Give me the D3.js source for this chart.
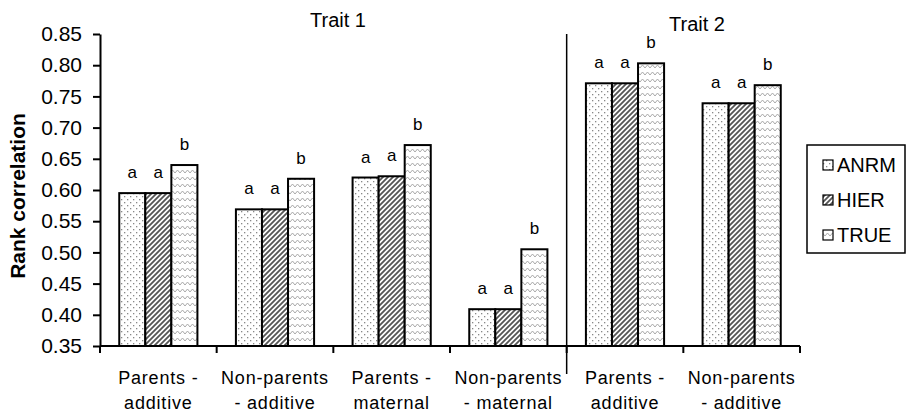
<!DOCTYPE html>
<html><head><meta charset="utf-8">
<script src="https://cdn.jsdelivr.net/npm/d3@7"></script>
<style>body{margin:0;background:#fff;} svg{display:block;font-family:Arial,"Liberation Sans",sans-serif;}</style>
</head><body>
<svg id="c" width="908" height="414"></svg>
<script>
const categories = ["Parents - |additive","Non-parents |- additive","Parents - |maternal","Non-parents |- maternal","Parents - |additive","Non-parents |- additive"];
const series = ["ANRM","HIER","TRUE"];
const anrm = [0.595, 0.569, 0.620, 0.409, 0.771, 0.739];
const hier = [0.595, 0.569, 0.622, 0.409, 0.771, 0.739];
const trueV = [0.640, 0.618, 0.672, 0.505, 0.803, 0.768];
const letters = ["a","a","b"];
const traits = ["Trait 1","Trait 2"];
const yTicks = [0.35,0.40,0.45,0.50,0.55,0.60,0.65,0.70,0.75,0.80,0.85];

const svg = d3.select("#c");
const defs = svg.append("defs");
const pd = defs.append("pattern").attr("id","pDots").attr("patternUnits","userSpaceOnUse").attr("width",6).attr("height",6);
pd.append("rect").attr("width",6).attr("height",6).attr("fill","#fff");
pd.append("rect").attr("x",1).attr("y",1).attr("width",1.3).attr("height",1.3).attr("fill","#888");
pd.append("rect").attr("x",4).attr("y",4).attr("width",1.3).attr("height",1.3).attr("fill","#888");
const ph = defs.append("pattern").attr("id","pDiag").attr("patternUnits","userSpaceOnUse").attr("width",5).attr("height",5);
ph.append("rect").attr("width",5).attr("height",5).attr("fill","#fff");
ph.append("path").attr("d","M-1,6 L6,-1 M-1,1 L1,-1 M4,6 L6,4").attr("stroke","#555").attr("stroke-width",1.8);
const pw = defs.append("pattern").attr("id","pWave").attr("patternUnits","userSpaceOnUse").attr("width",10).attr("height",7);
pw.append("rect").attr("width",10).attr("height",7).attr("fill","#fff");
pw.append("path").attr("d","M0,5 L2.5,2 L5,5 L7.5,2 L10,5").attr("fill","none").attr("stroke","#aaa").attr("stroke-width",1);
const fills = ["url(#pDots)","url(#pDiag)","url(#pWave)"];

const x0 = d3.scaleBand().domain(d3.range(categories.length)).range([100,800]).paddingInner(0.33).paddingOuter(0.165);
const x1 = d3.scaleBand().domain(series).range([0,x0.bandwidth()]);
const y = d3.scaleLinear().domain([0.35,0.85]).range([346,34]);
const vals = [anrm,hier,trueV];

const yAxis = d3.axisLeft(y).tickValues(yTicks).tickFormat(d3.format(".2f")).tickSize(7).tickSizeOuter(0);
const gy = svg.append("g").attr("transform","translate(100,0)").call(yAxis);
gy.select(".domain").attr("stroke","#000").attr("stroke-width",2);
gy.selectAll(".tick line").attr("stroke","#000").attr("stroke-width",2);
gy.selectAll(".tick text").attr("font-size",21).attr("fill","#000").attr("x",-18).attr("font-family","Arial, 'Liberation Sans', sans-serif");

const g = svg.append("g");
categories.forEach((c,i)=>{
  series.forEach((s,j)=>{
    const v = vals[j][i];
    g.append("rect").attr("x",x0(i)+x1(s)).attr("y",y(v)).attr("width",x1.bandwidth()).attr("height",y(0.35)-y(v))
      .attr("fill",fills[j]).attr("stroke","#000").attr("stroke-width",2);
    g.append("text").attr("x",x0(i)+x1(s)+x1.bandwidth()/2).attr("y",y(v)-15).attr("text-anchor","middle")
      .attr("font-size",17).text(letters[j]);
  });
});

const xPos = d3.scaleLinear().domain([0,categories.length]).range([100,800]);
svg.append("line").attr("x1",100).attr("x2",800).attr("y1",346).attr("y2",346).attr("stroke","#000").attr("stroke-width",2);
d3.range(categories.length+1).forEach(k=>{
  svg.append("line").attr("x1",xPos(k)).attr("x2",xPos(k)).attr("y1",346).attr("y2",353).attr("stroke","#000").attr("stroke-width",2);
});
categories.forEach((c,i)=>{
  const parts = c.split("|");
  const t = svg.append("text").attr("text-anchor","middle").attr("font-size",18).attr("letter-spacing",0.8);
  parts.forEach((p,k)=>t.append("tspan").attr("x",xPos(i+0.5)).attr("y",384+k*25).text(p.trim()));
});
svg.append("line").attr("x1",xPos(4)).attr("x2",xPos(4)).attr("y1",34).attr("y2",374).attr("stroke","#000").attr("stroke-width",1.5);

svg.append("text").attr("x",338).attr("y",27).attr("text-anchor","middle").attr("font-size",20).text(traits[0]);
svg.append("text").attr("x",697).attr("y",31).attr("text-anchor","middle").attr("font-size",20).text(traits[1]);

svg.append("text").attr("transform","translate(25,196) rotate(-90)").attr("text-anchor","middle")
  .attr("font-size",21).attr("font-weight","bold").text("Rank correlation");

const lg = svg.append("g");
lg.append("rect").attr("x",807).attr("y",145).attr("width",98).attr("height",108).attr("fill","#fff").attr("stroke","#000").attr("stroke-width",1.5);
series.forEach((s,j)=>{
  const cy = 165 + j*35;
  lg.append("rect").attr("x",823).attr("y",cy-5).attr("width",10).attr("height",10).attr("fill",fills[j]).attr("stroke","#000").attr("stroke-width",1.2);
  lg.append("text").attr("x",837).attr("y",cy+7).attr("font-size",20).text(s);
});
</script>
</body></html>
